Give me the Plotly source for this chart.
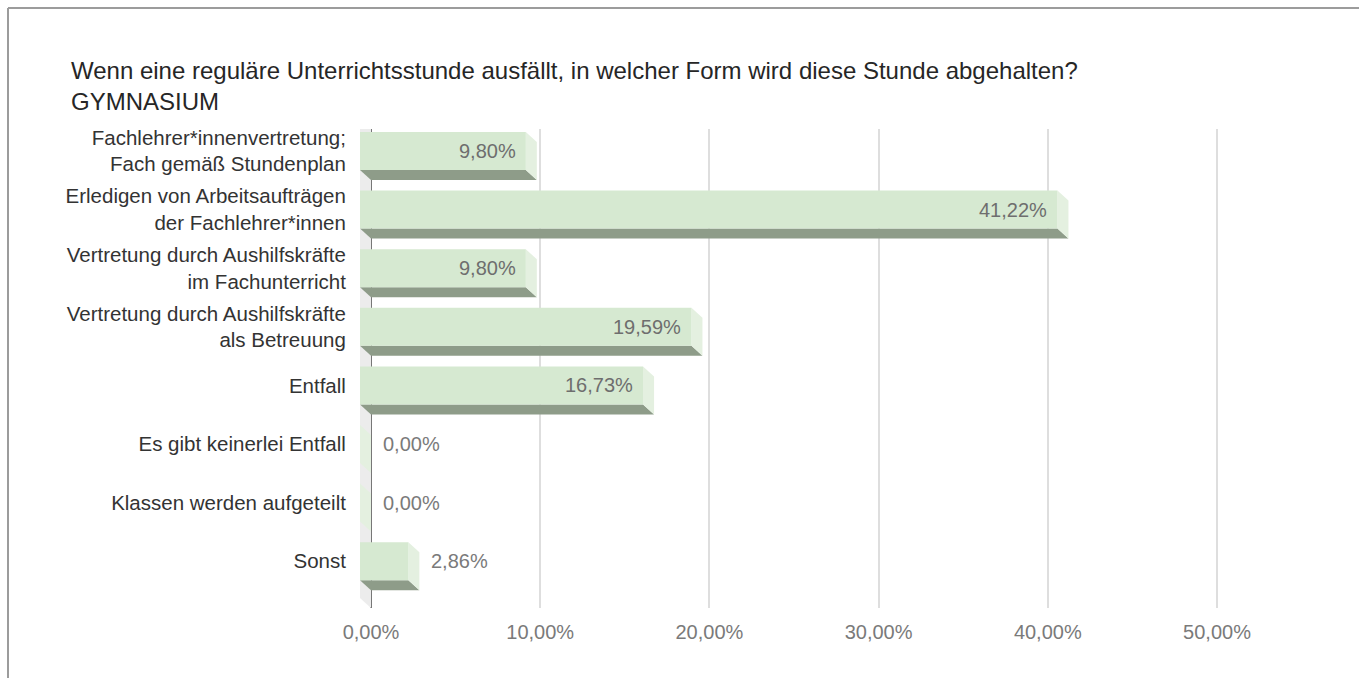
import plotly.graph_objects as go

# Survey answers and their shares (percent)
categories = [
    "Fachlehrer*innenvertretung;<br>Fach gemäß Stundenplan",
    "Erledigen von Arbeitsaufträgen<br>der Fachlehrer*innen",
    "Vertretung durch Aushilfskräfte<br>im Fachunterricht",
    "Vertretung durch Aushilfskräfte<br>als Betreuung",
    "Entfall",
    "Es gibt keinerlei Entfall",
    "Klassen werden aufgeteilt",
    "Sonst",
]
shares = [9.80, 41.22, 9.80, 19.59, 16.73, 0.00, 0.00, 2.86]
x_ticks = [0, 10, 20, 30, 40, 50]
x_tick_labels = ["0,00%", "10,00%", "20,00%", "30,00%", "40,00%", "50,00%"]

title_text = ("Wenn eine reguläre Unterrichtsstunde ausfällt, in welcher Form wird "
              "diese Stunde abgehalten?<br>GYMNASIUM")

FONT = "Liberation Sans, Arial, sans-serif"
W, H = 1359, 678

# plot area in pixels
L_PX, R_PX = 352, 1302
T_PX, B_PX = 129, 608
ZERO_PX = 371            # pixel of 0 %
PX_PER_PCT = 16.92
ROW0_PX = 151            # pixel centre of first row (front face)
ROW_PX = 58.6            # pixel distance between rows

x_min = (L_PX - ZERO_PX) / PX_PER_PCT
x_max = (R_PX - ZERO_PX) / PX_PER_PCT
y_top = (T_PX - ROW0_PX) / ROW_PX
y_bot = (B_PX - ROW0_PX) / ROW_PX

# pseudo-3D geometry in data units
DX = 11 / PX_PER_PCT     # depth shift along x
DY = 10 / ROW_PX         # depth shift along y
HH = 19 / ROW_PX         # half height of the front face

FRONT = "#d6e9d1"
SIDE = "#e4f0e0"
BOTTOM = "#8e9c89"
WALL = "#ececec"

fig = go.Figure()

# side wall at x = 0
fig.add_trace(go.Scatter(
    x=[-DX, 0, 0, -DX, -DX],
    y=[y_top - 1 - DY, y_top - 1, y_bot, y_bot - DY, y_top - 1 - DY],
    fill="toself", fillcolor=WALL, line=dict(width=0), mode="lines",
    hoverinfo="skip", showlegend=False,
))

for i, v in enumerate(shares):
    yt, yb = i - HH, i + HH
    # bottom face
    fig.add_trace(go.Scatter(
        x=[-DX, v - DX, v, 0, -DX],
        y=[yb, yb, yb + DY, yb + DY, yb],
        fill="toself", fillcolor=BOTTOM, line=dict(width=0), mode="lines",
        hoverinfo="skip", showlegend=False,
    ))
    # right side face
    fig.add_trace(go.Scatter(
        x=[v - DX, v, v, v - DX, v - DX],
        y=[yt, yt + DY, yb + DY, yb, yt],
        fill="toself", fillcolor=SIDE, line=dict(width=0), mode="lines",
        hoverinfo="skip", showlegend=False,
    ))
    # front face
    if v > 0:
        fig.add_trace(go.Scatter(
            x=[-DX, v - DX, v - DX, -DX, -DX],
            y=[yt, yt, yb, yb, yt],
            fill="toself", fillcolor=FRONT, line=dict(width=0), mode="lines",
            hoverinfo="skip", showlegend=False,
        ))

    label = f"{v:.2f}".replace(".", ",") + "%"
    if v >= 5:
        fig.add_annotation(x=v - DX, y=i, text=label, showarrow=False,
                           xanchor="right", xshift=-8,
                           font=dict(family=FONT, size=20, color="#6e6e6e"))
    else:
        fig.add_annotation(x=v, y=i, text=label, showarrow=False,
                           xanchor="left", xshift=10,
                           font=dict(family=FONT, size=20, color="#7a7a7a"))

pw = R_PX - L_PX
ph = B_PX - T_PX


def px_x(p):
    return (p - L_PX) / pw


def px_y(p):
    return (B_PX - p) / ph


# title
fig.add_annotation(
    x=px_x(69), y=px_y(55), xref="paper", yref="paper",
    text=title_text, showarrow=False, xanchor="left", yanchor="top", align="left",
    font=dict(family=FONT, size=24, color="#262626"),
)

# frame lines
fig.add_shape(type="line", xref="paper", yref="paper",
              x0=px_x(8), x1=px_x(8), y0=px_y(8), y1=px_y(H + 5),
              line=dict(color="#9c9c9c", width=2))
fig.add_shape(type="line", xref="paper", yref="paper",
              x0=px_x(8), x1=px_x(W + 5), y0=px_y(8), y1=px_y(8),
              line=dict(color="#9c9c9c", width=2))

fig.update_layout(
    width=W, height=H,
    margin=dict(l=L_PX, r=W - R_PX, t=T_PX, b=H - B_PX, pad=0),
    paper_bgcolor="white", plot_bgcolor="white",
    showlegend=False, hovermode=False,
    xaxis=dict(
        range=[x_min, x_max], tickvals=x_ticks, ticktext=x_tick_labels,
        showgrid=True, gridcolor="#dedede", gridwidth=2,
        zeroline=True, zerolinecolor="#777777", zerolinewidth=2,
        showline=False, ticks="outside", ticklen=6, tickcolor="rgba(0,0,0,0)",
        tickfont=dict(family=FONT, size=20, color="#7a7a7a"),
        fixedrange=True,
    ),
    yaxis=dict(
        range=[y_bot, y_top], tickvals=list(range(len(categories))),
        ticktext=categories, showgrid=False, zeroline=False, showline=False,
        ticks="outside", ticklen=1, tickcolor="rgba(0,0,0,0)",
        tickfont=dict(family=FONT, size=20.5, color="#333333"),
        fixedrange=True,
    ),
)

fig.write_html("out.html")
